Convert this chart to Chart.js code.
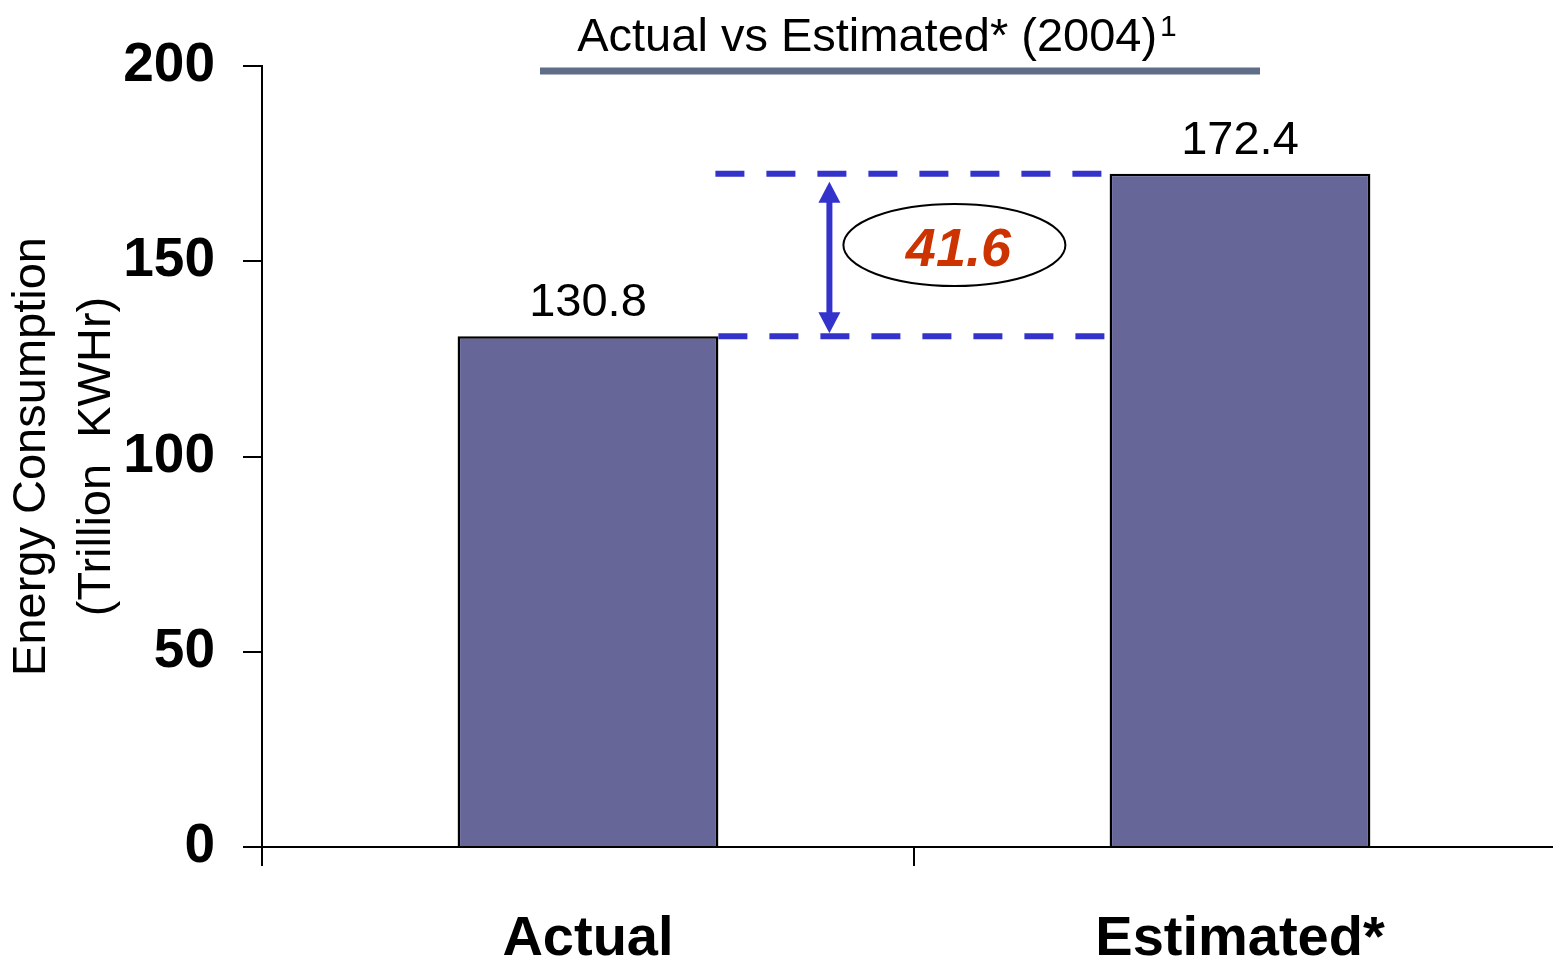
<!DOCTYPE html>
<html>
<head>
<meta charset="utf-8">
<title>Actual vs Estimated (2004)</title>
<script src="https://cdn.jsdelivr.net/npm/chart.js@4.4.1/dist/chart.umd.min.js"></script>
<style>
  body { margin: 0; background: #fff; overflow: hidden; }
  #wrap { width: 1553px; height: 961px; overflow: hidden; }
</style>
</head>
<body>
<!-- plot runs a little past the right edge, like the original slide -->
<div id="wrap"><canvas id="chart" width="1566" height="961"></canvas></div>
<script>
const categories = ["Actual", "Estimated*"];
const consumption = [130.8, 172.4];
const yTicks = [0, 50, 100, 150, 200];
const chartTitle = "Actual vs Estimated* (2004)";
const yTitle = ["Energy Consumption", "(Trillion  KWHr)"];

const FONT = "Arial, 'Liberation Sans', sans-serif";
const barColor = "#666699";
const gapColor = "#3333cc";

// title text + grey rule above the plot
const titlePlugin = {
  id: "topTitle",
  afterDraw(chart) {
    const ctx = chart.ctx;
    ctx.save();
    ctx.fillStyle = "#000";
    ctx.textBaseline = "alphabetic";
    ctx.font = "47px " + FONT;
    const w = ctx.measureText(chartTitle).width;
    ctx.font = "30px " + FONT;
    const sw = ctx.measureText("1").width;
    const left = 877 - (w + sw + 3) / 2;
    ctx.font = "47px " + FONT;
    ctx.textAlign = "left";
    ctx.fillText(chartTitle, left, 51);
    ctx.font = "30px " + FONT;
    ctx.fillText("1", left + w + 3, 36);

    ctx.strokeStyle = "#5f6d89";
    ctx.lineWidth = 7;
    ctx.beginPath();
    ctx.moveTo(540, 71);
    ctx.lineTo(1260, 71);
    ctx.stroke();
    ctx.restore();
  }
};

// value labels above bars
const valueLabels = {
  id: "valueLabels",
  afterDatasetsDraw(chart) {
    const ctx = chart.ctx;
    const meta = chart.getDatasetMeta(0);
    ctx.save();
    ctx.font = "47px " + FONT;
    ctx.fillStyle = "#000";
    ctx.textAlign = "center";
    ctx.textBaseline = "alphabetic";
    meta.data.forEach((bar, i) => {
      ctx.fillText(consumption[i].toFixed(1), bar.x, bar.y - 20);
    });
    ctx.restore();
  }
};

// dashed bracket, double arrow and the difference in an ellipse
const gapMarker = {
  id: "gapMarker",
  afterDatasetsDraw(chart) {
    const ctx = chart.ctx;
    const y = chart.scales.y;
    const meta = chart.getDatasetMeta(0);
    const b0 = meta.data[0], b1 = meta.data[1];
    const x0 = b0.x + b0.width / 2;
    const x1 = b1.x - b1.width / 2;
    const yLo = y.getPixelForValue(consumption[0]);
    const yHi = y.getPixelForValue(consumption[1]);
    const diff = (consumption[1] - consumption[0]).toFixed(1);

    ctx.save();
    ctx.strokeStyle = gapColor;
    ctx.fillStyle = gapColor;
    ctx.lineWidth = 6;
    ctx.setLineDash([29, 22]);
    ctx.beginPath();
    ctx.moveTo(x0 - 3, yHi);
    ctx.lineTo(x1 - 5, yHi);
    ctx.moveTo(x0, yLo);
    ctx.lineTo(x1 - 2, yLo);
    ctx.stroke();
    ctx.setLineDash([]);

    // arrow
    const ax = x0 + 111;
    const head = 21, hw = 11;
    ctx.lineWidth = 6;
    ctx.beginPath();
    ctx.moveTo(ax, yHi + 8 + head - 2);
    ctx.lineTo(ax, yLo - 3 - head + 2);
    ctx.stroke();
    ctx.beginPath();
    ctx.moveTo(ax, yHi + 8);
    ctx.lineTo(ax - hw, yHi + 8 + head);
    ctx.lineTo(ax + hw, yHi + 8 + head);
    ctx.closePath();
    ctx.fill();
    ctx.beginPath();
    ctx.moveTo(ax, yLo - 3);
    ctx.lineTo(ax - hw, yLo - 3 - head);
    ctx.lineTo(ax + hw, yLo - 3 - head);
    ctx.closePath();
    ctx.fill();

    // ellipse with the difference
    const ex = x0 + 236;
    const ey = (yHi + yLo) / 2 - 10;
    ctx.strokeStyle = "#000";
    ctx.lineWidth = 2;
    ctx.beginPath();
    ctx.ellipse(ex, ey, 111, 41, 0, 0, Math.PI * 2);
    ctx.stroke();

    ctx.fillStyle = "#cc3300";
    ctx.font = "italic bold 54px " + FONT;
    ctx.textAlign = "center";
    ctx.textBaseline = "middle";
    ctx.fillText(diff, ex + 4, ey + 6);
    ctx.restore();
  }
};

new Chart(document.getElementById("chart"), {
  type: "bar",
  data: {
    labels: categories,
    datasets: [{
      data: consumption,
      backgroundColor: barColor,
      borderColor: "#000",
      borderWidth: 2.5,
      barPercentage: 0.4,
      categoryPercentage: 1.0
    }]
  },
  options: {
    responsive: false,
    animation: false,
    events: [],
    layout: { padding: { top: 66, left: 0, right: 0, bottom: 0 } },
    plugins: {
      legend: { display: false },
      tooltip: { enabled: false },
      title: { display: false }
    },
    scales: {
      x: {
        afterFit(scale) { scale.height = 114; },
        grid: {
          drawOnChartArea: false,
          drawTicks: true,
          tickLength: 19,
          tickColor: "#000",
          lineWidth: 2,
          offset: true
        },
        border: { color: "#000", width: 2 },
        ticks: {
          color: "#000",
          padding: 40,
          autoSkip: false,
          maxRotation: 0,
          font: { family: FONT, size: 56, weight: "bold" }
        }
      },
      y: {
        min: 0,
        max: 200,
        afterFit(scale) { scale.width = 262; },
        afterBuildTicks(scale) { scale.ticks = yTicks.map(v => ({ value: v })); },
        grid: {
          drawOnChartArea: false,
          drawTicks: true,
          tickLength: 19,
          tickColor: "#000",
          lineWidth: 2
        },
        border: { color: "#000", width: 2 },
        ticks: {
          color: "#000",
          padding: 28,
          font: { family: FONT, size: 55, weight: "bold" }
        },
        title: {
          display: true,
          text: yTitle,
          color: "#000",
          padding: 0,
          font: { family: FONT, size: 47, lineHeight: 1.38 }
        }
      }
    }
  },
  plugins: [titlePlugin, valueLabels, gapMarker]
});
</script>
</body>
</html>
